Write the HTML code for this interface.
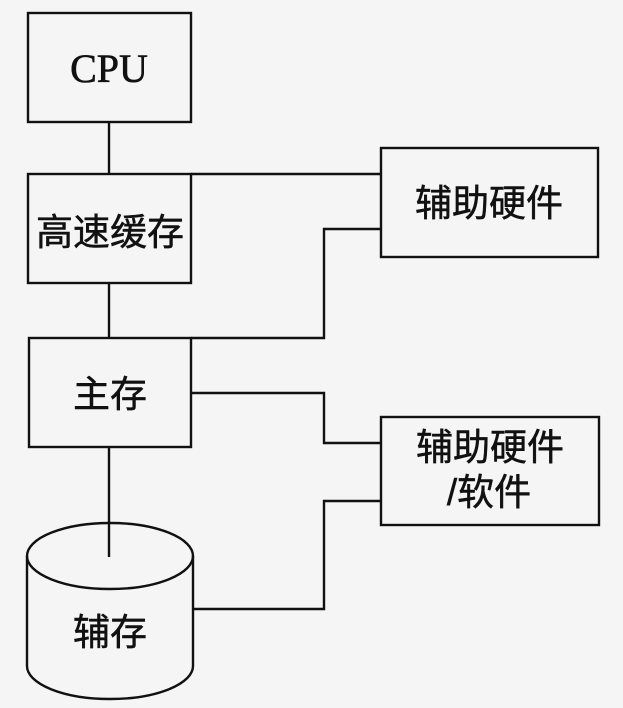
<!DOCTYPE html>
<html><head><meta charset="utf-8"><style>
html,body{margin:0;padding:0;background:#f5f5f5;}
svg{display:block;}
.cj{font-family:"Liberation Sans","Noto Sans CJK SC",sans-serif;font-size:37px;fill:#111;stroke:#111;stroke-width:0.5px;}
.cpu{font-family:"Liberation Serif",serif;font-size:40px;fill:#111;stroke:#111;stroke-width:0.6px;}
</style></head><body>
<svg width="623" height="708" viewBox="0 0 623 708" xmlns="http://www.w3.org/2000/svg">
<rect x="0" y="0" width="623" height="708" fill="#f5f5f5"/>
<g fill="none" stroke="#111" stroke-width="2.4">
<rect x="28" y="13" width="163" height="109"/>
<rect x="28" y="174" width="163" height="109"/>
<rect x="29" y="338" width="162" height="109"/>
<rect x="381" y="148" width="217" height="109"/>
<rect x="381" y="417" width="218" height="108"/>
<line x1="109" y1="122" x2="109" y2="174"/>
<line x1="109" y1="283" x2="109" y2="338"/>
<line x1="109" y1="447" x2="109" y2="557"/>
<line x1="191" y1="174" x2="381" y2="174"/>
<polyline points="191,338 324,338 324,229 381,229"/>
<polyline points="191,393 324,393 324,443 381,443"/>
<polyline points="193,609 324,609 324,501 381,501"/>
<path d="M27,556 A83,33 0 0 1 193,556 A83,33 0 0 1 27,556 Z"/>
<path d="M27,556 L27,666 A83,33 0 0 0 193,666 L193,556"/>
</g>
<text class="cpu" x="109" y="82" text-anchor="middle">CPU</text>
<text class="cj" x="110" y="245" text-anchor="middle">高速缓存</text>
<text class="cj" x="110" y="407" text-anchor="middle">主存</text>
<text class="cj" x="110" y="645" text-anchor="middle">辅存</text>
<text class="cj" x="489" y="216" text-anchor="middle">辅助硬件</text>
<text class="cj" x="490" y="460" text-anchor="middle">辅助硬件</text>
<text class="cj" x="489" y="505" text-anchor="middle">/软件</text>
</svg>
</body></html>
